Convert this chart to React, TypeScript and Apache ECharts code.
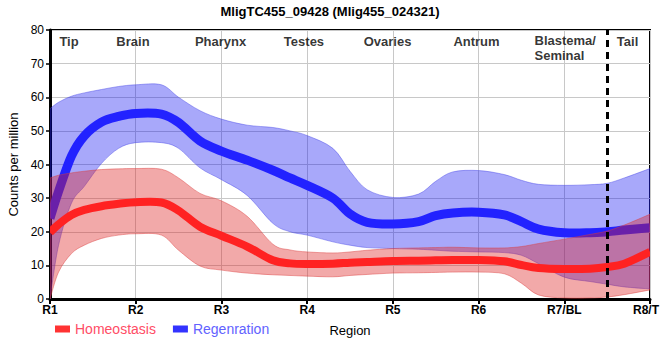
import React, { useEffect, useRef } from "react";
import * as echarts from "echarts";

const xLabels = ["R1", "R2", "R3", "R4", "R5", "R6", "R7/BL", "R8/T"];

// sample positions along the region axis (0 = R1 ... 7 = R8/T)
const xs = [0, 0.1, 0.25, 0.4, 0.6, 0.8, 1.0, 1.3, 1.5, 1.75, 2.0, 2.3, 2.6, 2.8, 3.0, 3.3, 3.5, 3.7, 4.0, 4.3, 4.5, 4.7, 5.0, 5.3, 5.5, 5.7, 6.0, 6.3, 6.5, 6.7, 7.0];

const regenMean = [24, 32, 42.5, 48.5, 52.6, 54.3, 55.2, 55, 52.5, 47, 44, 41.3, 38.3, 36, 33.8, 30, 25.3, 22.8, 22.3, 23, 24.8, 25.6, 25.8, 25, 23, 20.8, 19.7, 19.7, 20, 20.5, 21.2];
const regenUpper = [56.6, 58.5, 60.3, 61.3, 62.3, 63.2, 63.7, 63.7, 60, 56, 53.5, 51.7, 51, 50, 48.6, 44.8, 38, 32.5, 30.2, 31.2, 35, 37.8, 38.2, 37, 35.3, 34.1, 33.8, 34, 34.4, 36, 38.8];
const regenLower = [0, 16, 28.5, 33.5, 40.3, 44.8, 46.5, 46.5, 44.8, 39, 35.5, 30.8, 22.5, 20, 19, 17, 16, 15.3, 15, 14.8, 14.5, 14.2, 14, 13.8, 13, 10.5, 6.5, 5.2, 4.4, 3.6, 3];

const homeoMean = [19.8, 22.2, 25, 26.5, 27.6, 28.3, 28.8, 28.7, 26.3, 21.5, 18.8, 15.6, 11.5, 10.6, 10.4, 10.5, 10.8, 11, 11.3, 11.4, 11.5, 11.6, 11.6, 11.2, 10.1, 9.2, 8.9, 9, 9.5, 10.5, 14];
const homeoUpper = [36, 36.8, 37.5, 38, 38.5, 38.7, 38.8, 38.6, 36, 31.4, 29.2, 24.6, 16.3, 14.6, 14, 13.7, 14, 14.5, 15, 15.2, 15.3, 15.4, 15.2, 15.2, 15.6, 16.5, 17.8, 19.2, 20.2, 22, 25.2];
const homeoLower = [0, 8, 13.5, 16, 18, 19, 19.4, 19, 14.5, 9.8, 8.6, 7.7, 7.2, 7, 6.8, 6.6, 7, 7.3, 7.7, 7.8, 7.9, 8, 8, 7.5, 4.7, 1.2, 0.3, 0.3, 0.6, 1.3, 2.7];

const regionNames = ["Tip", "Brain", "Pharynx", "Testes", "Ovaries", "Antrum", "Blastema/\nSeminal", "Tail"];
const regionX = [0.222, 0.968, 1.99, 2.963, 3.938, 4.976, 5.647, 6.738];
const regionY = [76.7, 76.7, 76.7, 76.7, 76.7, 76.7, 74.5, 76.7];

const boundaryX = 6.5;

const FONT = '"Liberation Sans", Arial, Helvetica, sans-serif';

// Catmull-Rom segments through pixel points (after an initial M)
function segs(p: number[][]): string {
  let d = "";
  for (let i = 0; i < p.length - 1; i++) {
    const p0 = p[i - 1] || p[i];
    const p1 = p[i];
    const p2 = p[i + 1];
    const p3 = p[i + 2] || p[i + 1];
    const c1x = p1[0] + (p2[0] - p0[0]) / 6;
    const c1y = p1[1] + (p2[1] - p0[1]) / 6;
    const c2x = p2[0] - (p3[0] - p1[0]) / 6;
    const c2y = p2[1] - (p3[1] - p1[1]) / 6;
    d += ` C${c1x.toFixed(2)},${c1y.toFixed(2)} ${c2x.toFixed(2)},${c2y.toFixed(2)} ${p2[0].toFixed(2)},${p2[1].toFixed(2)}`;
  }
  return d;
}

const bandRender = (upper: number[], lower: number[], fill: string, stroke: string) => (_params: any, api: any) => {
  const up = xs.map((x, i) => api.coord([x, upper[i]]));
  const lo = xs.map((x, i) => api.coord([x, lower[i]])).reverse();
  const d = `M${up[0][0]},${up[0][1]}` + segs(up) + ` L${lo[0][0]},${lo[0][1]}` + segs(lo) + " Z";
  return { type: "path", shape: { pathData: d }, style: { fill, stroke, lineWidth: 1 } };
};

const lineRender = (vals: number[], stroke: string, width: number) => (_params: any, api: any) => {
  const pts = xs.map((x, i) => api.coord([x, vals[i]]));
  const d = `M${pts[0][0]},${pts[0][1]}` + segs(pts);
  return {
    type: "path",
    shape: { pathData: d },
    style: { fill: "none", stroke, lineWidth: width, lineCap: "butt", lineJoin: "round" },
  };
};

export default function App() {
  const ref = useRef<HTMLDivElement>(null);
  useEffect(() => {
    document.body.style.margin = "0";
    if (!ref.current) return;
    const chart = echarts.init(ref.current, undefined, { renderer: "svg" });
    const customCommon = {
      type: "custom",
      data: [[0, 0]],
      encode: { x: 0, y: 1 },
      clip: true,
      silent: true,
    };
    const lastIdx = xLabels.length - 1;
    chart.setOption({
      animation: false,
      textStyle: { fontFamily: FONT },
      title: {
        text: "MligTC455_09428 (Mlig455_024321)",
        left: "center",
        top: 0,
        textStyle: { fontSize: 13, fontWeight: "bold", color: "#000", fontFamily: FONT },
      },
      grid: {
        left: 50,
        right: 10,
        top: 30,
        bottom: 61,
        show: true,
        borderColor: "#000",
        borderWidth: 2,
        backgroundColor: "transparent",
        outerBoundsMode: "none",
      },
      legend: {
        data: [
          { name: "Homeostasis", textStyle: { color: "#ff4d66" }, itemStyle: { color: "#ff3333" } },
          { name: "Regenration", textStyle: { color: "#6262ff" }, itemStyle: { color: "#3333ff" } },
        ],
        left: 55,
        top: 322,
        padding: 0,
        icon: "rect",
        itemWidth: 15,
        itemHeight: 7,
        itemGap: 17,
        selectedMode: false,
        textStyle: { fontSize: 14, fontFamily: FONT },
      },
      xAxis: {
        type: "value",
        min: 0,
        max: 7,
        interval: 1,
        name: "Region",
        nameLocation: "middle",
        nameGap: 25,
        nameTextStyle: { fontSize: 13, color: "#000", fontFamily: FONT },
        axisLine: { show: true, lineStyle: { color: "#000", width: 3 } },
        axisTick: { show: true, length: 5, lineStyle: { color: "#000", width: 2 } },
        axisLabel: {
          formatter: (v: number) => {
            const i = Math.round(v);
            const t = xLabels[i] ?? "";
            return i === lastIdx ? `{last|${t}}` : t;
          },
          rich: { last: { fontSize: 12, fontWeight: "bold", color: "#000", padding: [0, 8, 0, 0], fontFamily: FONT } },
          fontSize: 12,
          fontWeight: "bold",
          color: "#000",
          margin: 5,
          fontFamily: FONT,
          alignMaxLabel: "center",
          alignMinLabel: "center",
        },
        splitLine: { show: true, lineStyle: { color: "#c8c8c8", width: 1 } },
      },
      yAxis: {
        type: "value",
        min: 0,
        max: 80,
        interval: 10,
        name: "Counts per million",
        nameLocation: "middle",
        nameGap: 19,
        nameTextStyle: { fontSize: 13, color: "#000", fontFamily: FONT },
        axisLine: { show: true, lineStyle: { color: "#000", width: 3 } },
        axisTick: { show: true, length: 4, lineStyle: { color: "#000", width: 1.5 } },
        axisLabel: { fontSize: 12, color: "#000", margin: 6, fontFamily: FONT },
        splitLine: { show: true, lineStyle: { color: "#c8c8c8", width: 1 } },
      },
      series: [
        {
          ...customCommon,
          name: "regenBand",
          renderItem: bandRender(regenUpper, regenLower, "rgba(0,0,240,0.34)", "rgba(70,70,230,0.45)"),
          z: 1,
        },
        {
          ...customCommon,
          name: "Regenration",
          itemStyle: { color: "#3333ff" },
          renderItem: lineRender(regenMean, "#2222ff", 9),
          z: 2,
        },
        {
          ...customCommon,
          name: "homeoBand",
          renderItem: bandRender(homeoUpper, homeoLower, "rgba(220,30,30,0.38)", "rgba(220,60,60,0.45)"),
          z: 3,
        },
        {
          ...customCommon,
          name: "Homeostasis",
          itemStyle: { color: "#ff3333" },
          renderItem: lineRender(homeoMean, "#ff2222", 8),
          z: 4,
        },
        {
          type: "scatter",
          name: "regions",
          silent: true,
          symbolSize: 1,
          itemStyle: { color: "rgba(0,0,0,0)" },
          z: 6,
          label: {
            show: true,
            position: "inside",
            formatter: "{b}",
            fontSize: 13,
            fontWeight: "bold",
            color: "#000",
            lineHeight: 15,
            fontFamily: FONT,
          },
          data: regionNames.map((n, i) => ({
            name: n,
            value: [regionX[i], regionY[i]],
            label: n.includes("\n") ? { position: "right", distance: 0, align: "left" } : undefined,
          })),
          markLine: {
            silent: true,
            symbol: ["none", "none"],
            label: { show: false },
            lineStyle: { color: "#000", type: [7, 5], width: 3 },
            data: [{ xAxis: boundaryX }],
          },
        },
      ],
    });
    return () => chart.dispose();
  }, []);
  return <div ref={ref} style={{ width: 660, height: 360 }} />;
}
